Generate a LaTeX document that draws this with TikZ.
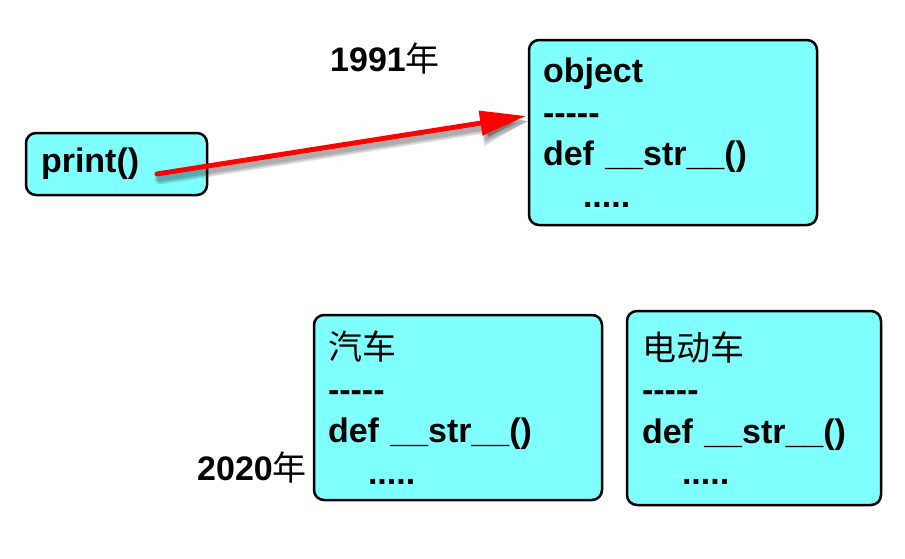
\documentclass[tikz,border=0pt]{standalone}
\usepackage{fontspec}
\setmainfont{Liberation Sans}[BoldFont={Liberation Sans Bold}]
\newfontfamily\cjk{Noto Sans CJK SC}
\usetikzlibrary{arrows.meta}
\definecolor{boxfill}{RGB}{128,255,255}
\definecolor{arrred}{RGB}{255,0,0}
\newcommand{\dashrow}{-{}-{}-{}-{}-}
\begin{document}
\begin{tikzpicture}[x=1pt,y=-1pt,
  txt/.style={font=\bfseries\fontsize{34}{41.5}\selectfont},
  classbox/.style={draw=black, line width=2.5pt, fill=boxfill, rounded corners=10pt,
    txt, align=left, inner ysep=0pt},
  redline/.style={draw=arrred, line width=5pt, line cap=round,
    -{Triangle[length=46pt,width=24pt]}},
  shadowline/.style={draw=black, opacity=0.12, line cap=round}
]
\useasboundingbox (0,0) rectangle (905,558);

\node[classbox, text width=151pt, inner xsep=15pt, minimum height=62pt] (print) at (116.5,164) {print()};

\node[classbox, text width=260pt, inner xsep=14pt, minimum height=185pt] (obj) at (673,132.5)
  {object\\\dashrow\\def \_\_str\_\_()\\\hspace*{40pt}.....};

\node[classbox, text width=260pt, inner xsep=14pt, minimum height=185pt] (car) at (458,407.5)
  {{\mdseries\cjk 汽车}\\\dashrow\\def \_\_str\_\_()\\\hspace*{40pt}.....};

\node[classbox, text width=224pt, inner xsep=15pt, minimum height=194pt] (ecar) at (754,408)
  {{\mdseries\cjk 电动车}\\\dashrow\\def \_\_str\_\_()\\\hspace*{40pt}.....};

\node[txt, anchor=base west, inner sep=0pt] (y1991) at (330,71) {1991{\mdseries\cjk 年}};
\node[txt, anchor=base west, inner sep=0pt] (y2020) at (197,480) {2020{\mdseries\cjk 年}};

\coordinate (pstart) at (157,174);
\coordinate (pend) at (526,116);
\coordinate (sstart) at (160,179);
\coordinate (send) at (529,121);
\draw[shadowline, line width=11pt, -{Triangle[length=48pt,width=32pt]}] (sstart) -- (send);
\draw[shadowline, line width=8pt, -{Triangle[length=47pt,width=28pt]}] (sstart) -- (send);
\draw[shadowline, line width=5pt, -{Triangle[length=46pt,width=24pt]}] (sstart) -- (send);
\draw[redline] (pstart) -- (pend);
\end{tikzpicture}
\end{document}
